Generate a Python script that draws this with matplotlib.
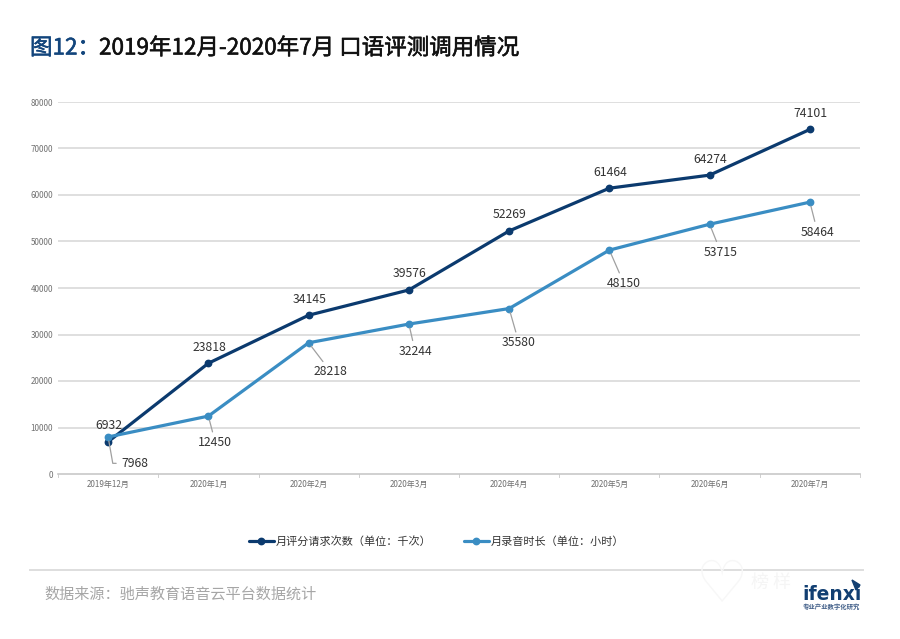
import matplotlib
matplotlib.use("Agg")
import matplotlib.pyplot as plt
import matplotlib.patheffects as pe
from matplotlib.patches import Polygon

plt.rcParams['font.family'] = ['Noto Sans CJK SC', 'DejaVu Sans']

months = ["2019年12月", "2020年1月", "2020年2月", "2020年3月", "2020年4月", "2020年5月", "2020年6月", "2020年7月"]
requests = [6932, 23818, 34145, 39576, 52269, 61464, 64274, 74101]
durations = [7968, 12450, 28218, 32244, 35580, 48150, 53715, 58464]
yticks = [0, 10000, 20000, 30000, 40000, 50000, 60000, 70000, 80000]

dark = "#0b3a6e"
light = "#3a8dc3"
W, H = 900, 639


def px(x, y):
    # pixel position from top left -> figure fraction
    return x / W, 1 - y / H


fig = plt.figure(figsize=(9, 6.39), dpi=100)
ax = fig.add_axes([58 / W, 1 - 474 / H, 802 / W, 372 / H])

xs = range(len(months))
for y in yticks[1:]:
    ax.axhline(y, color="#d9d9d9", lw=1.2, zorder=1)

ax.plot(xs, requests, color=dark, lw=2.3, marker="o", ms=4.6, label="月评分请求次数（单位：千次）", zorder=3, solid_capstyle="round")
ax.plot(xs, durations, color=light, lw=2.3, marker="o", ms=4.6, label="月录音时长（单位：小时）", zorder=4, solid_capstyle="round")

ax.set_xlim(-0.5, 7.5)
ax.set_ylim(0, 80000)
ax.set_xticks(xs)
ax.set_xticklabels(months, fontsize=5.8, color="#707070")
ax.set_yticks(yticks)
ax.set_yticklabels([str(y) for y in yticks], fontsize=5.8, color="#707070")
ax.tick_params(axis="y", length=0, pad=3.5)
ax.tick_params(axis="x", length=0, pad=4.5)
for s in ["top", "right", "left"]:
    ax.spines[s].set_visible(False)
ax.spines["bottom"].set_color("#c8c8c8")
ax.spines["bottom"].set_linewidth(1.2)
for x in [i - 0.5 for i in range(9)]:
    ax.plot([x, x], [0, -700], color="#d0d0d0", lw=0.7, clip_on=False)

# upper series labels sit above the points
for x, v in zip(xs, requests):
    ax.annotate(str(v), (x, v), xytext=(0.5, 11.5), textcoords="offset points", ha="center", va="center",
                fontsize=8.8, color="#333333", zorder=6)

# lower series labels with grey leader lines
low_off = [(19.5, -19), (5, -19), (16, -21), (4.5, -19.5), (7, -24.5), (10.5, -24), (8, -20), (5.5, -21.5)]
for x, v, off in zip(xs, durations, low_off):
    props = dict(arrowstyle="-", color="#a0a0a0", lw=0.9, shrinkA=1, shrinkB=3)
    if x == 0:
        # first label has an elbow leader
        props.update(connectionstyle="angle,angleA=0,angleB=100,rad=0", relpos=(0, 0.5), shrinkA=2)
    ax.annotate(str(v), (x, v), xytext=off, textcoords="offset points", ha="center", va="center",
                fontsize=8.8, color="#333333", zorder=6, arrowprops=props)

leg = ax.legend(loc="center", bbox_to_anchor=(0.472, -0.181), ncol=2, frameon=False, fontsize=8,
                handlelength=2.25, handletextpad=0.2, columnspacing=2.85, labelcolor="#333333")

bold = [pe.withStroke(linewidth=0.4, foreground="#12457c")]
fig.text(*px(30, 48), "图12：", fontsize=16.2, color="#12457c", va="center", ha="left", path_effects=bold)
bold2 = [pe.withStroke(linewidth=0.4, foreground="#111111")]
fig.text(*px(99, 48), "2019年12月-2020年7月 口语评测调用情况", fontsize=16.2, color="#111111", va="center", ha="left", path_effects=bold2)

fig.add_artist(plt.Line2D([30 / W, 863 / W], [1 - 570 / H] * 2, color="#dedede", lw=1.4))
fig.text(*px(44, 594), "数据来源：驰声教育语音云平台数据统计", fontsize=10.9, color="#a6a6a6", va="center", ha="left")

# watermark and logo
fig.text(*px(722, 586), "♡", fontsize=42, color="#f7f7f7", va="center", ha="center", family="DejaVu Sans")
fig.text(*px(771, 583), "榜 样", fontsize=13, color="#f5f5f5", va="center", ha="center")
fig.text(*px(802, 594), "ifenxi", fontsize=13.5, color="#123f72", va="center", ha="left", fontweight="bold",
         family="DejaVu Sans")
fig.text(*px(860, 607), "专业产业数字化研究", fontsize=4.6, color="#44618a", va="center", ha="right", fontweight="bold")
fig.add_artist(Polygon([px(852, 580), px(860, 585), px(856, 590)], closed=True, color="#123f72", transform=fig.transFigure))

fig.savefig("out.png", dpi=100, facecolor="white")
